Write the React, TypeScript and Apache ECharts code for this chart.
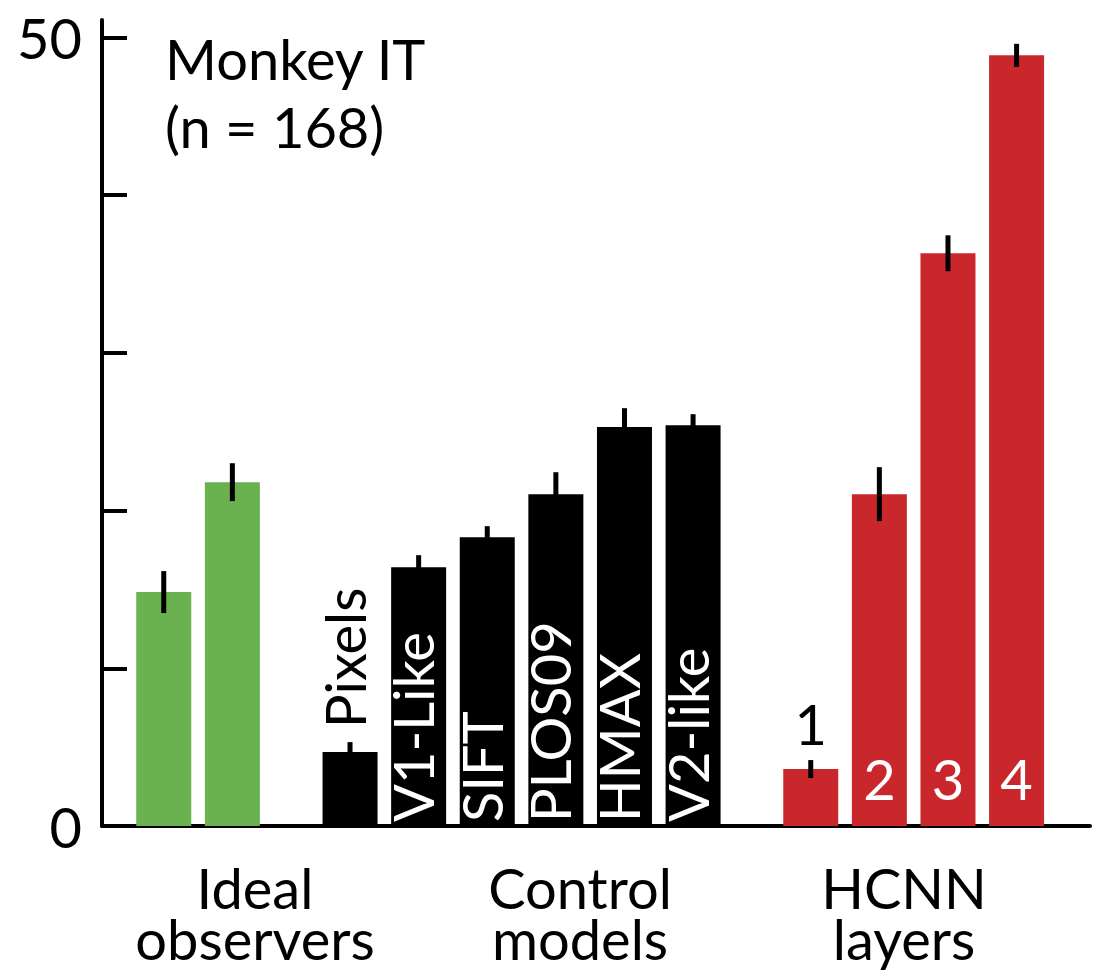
import React, { useEffect, useRef } from "react";
import * as echarts from "echarts";

// ---- data ----
const idealNames = ["Ideal A", "Ideal B"];
const idealValues = [14.83, 21.8];
const idealErrors = [1.33, 1.2];

const controlNames = ["Pixels", "V1-Like", "SIFT", "PLOS09", "HMAX", "V2-like"];
const controlValues = [4.69, 16.41, 18.31, 21.04, 25.29, 25.41];
const controlErrors = [0.63, 0.76, 0.7, 1.39, 1.2, 0.7];

const hcnnNames = ["1", "2", "3", "4"];
const hcnnValues = [3.61, 21.04, 36.31, 48.86];
const hcnnErrors = [0.57, 1.71, 1.14, 0.73];

const groupLabels = [["Ideal", "observers"], ["Control", "models"], ["HCNN", "layers"]];
const yTickValues = [0, 10, 20, 30, 40, 50];
const yLabelValues = [0, 50];
const titleLines = ["Monkey IT", "(n = 168)"];

// ---- style ----
const GREEN = "#6AB150";
const RED = "#C9272B";
const BLACK = "#000000";
const FONT = "Lato";
const GROUP_GAP = 0.715; // extra spacing (in bar pitches) between groups
const GROUP_LABEL_X = [255, 580, 904];

function buildBars() {
  const groups = [
    { names: idealNames, values: idealValues, errors: idealErrors, color: GREEN, kind: "ideal" },
    { names: controlNames, values: controlValues, errors: controlErrors, color: BLACK, kind: "control" },
    { names: hcnnNames, values: hcnnValues, errors: hcnnErrors, color: RED, kind: "hcnn" },
  ];
  const bars: any[] = [];
  const errs: any[] = [];
  let start = 0;
  groups.forEach((g) => {
    g.names.forEach((name, i) => {
      const x = start + i;
      const v = g.values[i];
      let label: any = { show: false };
      if (g.kind === "control") {
        if (i === 0) {
          label = {
            show: true, position: "top", rotate: 90, align: "left", verticalAlign: "middle",
            distance: 28, color: BLACK, fontSize: 56, fontFamily: FONT, formatter: name, offset: [-4, -6],
          };
        } else {
          label = {
            show: true, position: "insideBottom", rotate: 90, align: "left", verticalAlign: "middle",
            distance: 8, color: "#ffffff", fontSize: 56, fontFamily: FONT, formatter: name, offset: [-4, -6],
          };
        }
      } else if (g.kind === "hcnn") {
        if (i === 0) {
          label = { show: true, position: "top", distance: 18, color: BLACK, fontSize: 56, fontFamily: FONT, formatter: name };
        } else {
          label = { show: true, position: "insideBottom", distance: 20, color: "#ffffff", fontSize: 56, fontFamily: FONT, formatter: name };
        }
      }
      bars.push({ name, value: [x, v], itemStyle: { color: g.color }, label });
      errs.push({ name, value: [x, v, g.errors[i]] });
    });
    start += g.names.length + GROUP_GAP;
  });
  return { bars, errs };
}

export default function App() {
  const ref = useRef<HTMLDivElement>(null);
  useEffect(() => {
    if (!ref.current) return;
    const chart = echarts.init(ref.current, null, { renderer: "svg" });
    const { bars, errs } = buildBars();
    const groupTexts: any[] = [];
    groupLabels.forEach((lines, i) => {
      lines.forEach((t, j) => {
        groupTexts.push({
          type: "text",
          x: GROUP_LABEL_X[i],
          y: 862 + j * 51,
          style: { text: t, fontSize: 56, lineHeight: 50, fontFamily: FONT, fill: BLACK, align: "center", verticalAlign: "top" },
        });
      });
    });
    const option: any = {
      animation: false,
      backgroundColor: "#ffffff",
      grid: { left: 102, right: 15, top: 20, bottom: 152, containLabel: false },
      xAxis: {
        type: "value",
        min: -0.9,
        max: 13.5,
        axisLine: { show: true, onZero: true, lineStyle: { color: BLACK, width: 4 } },
        axisTick: { show: false },
        axisLabel: { show: false },
        splitLine: { show: false },
      },
      yAxis: {
        type: "value",
        min: 0,
        max: 51.1,
        interval: 10,
        axisLine: { show: true, onZero: false, lineStyle: { color: BLACK, width: 4 } },
        axisTick: { show: true, inside: true, length: 25, lineStyle: { color: BLACK, width: 4 }, customValues: yTickValues },
        axisLabel: { show: true, customValues: yLabelValues, color: BLACK, fontSize: 56, fontFamily: FONT, margin: 20 },
        splitLine: { show: false },
      },
      graphic: [
        ...titleLines.map((t, j) => ({
          type: "text",
          x: 165,
          y: 30 + j * 68,
          style: { text: t, fontSize: 56, fontFamily: FONT, fill: BLACK, verticalAlign: "top" },
        })),
        ...groupTexts,
      ],
      series: [
        {
          type: "bar",
          data: bars,
          barWidth: 55,
          barGap: "-100%",
          z: 2,
        },
        {
          type: "custom",
          data: errs,
          z: 5,
          renderItem: (params: any, api: any) => {
            const x = api.value(0);
            const v = api.value(1);
            const e = api.value(2);
            const a = api.coord([x, v + e]);
            const b = api.coord([x, v - e]);
            return {
              type: "line",
              shape: { x1: a[0], y1: a[1], x2: b[0], y2: b[1] },
              style: { stroke: BLACK, lineWidth: 5 },
            };
          },
        },
      ],
    };
    chart.setOption(option);
    return () => chart.dispose();
  }, []);
  return <div ref={ref} style={{ position: "fixed", left: 0, top: 0, width: 1105, height: 978 }} />;
}
